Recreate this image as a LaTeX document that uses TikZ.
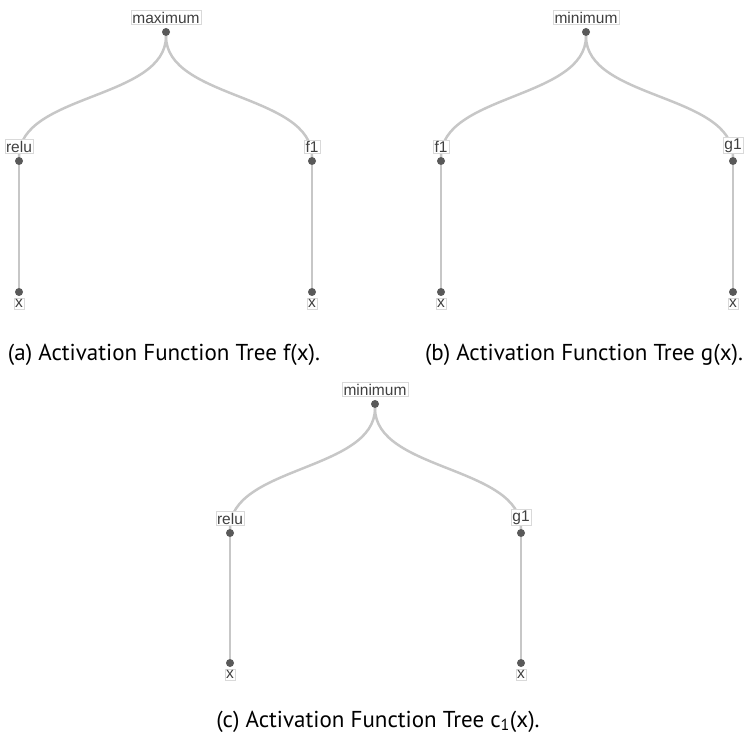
\documentclass[tikz,border=0pt]{standalone}
\usepackage{fontspec}
\usepackage{tikz}
\usetikzlibrary{positioning}
\usetikzlibrary{backgrounds}

\newfontfamily\lblfont{Liberation Sans}
\newfontfamily\capfont{PT Sans}

\tikzset{
    lbl/.style={draw=black!15, fill=white, text=black!75, inner sep=1.3pt,
        font=\lblfont\fontsize{15.5}{17}\selectfont},
    dot/.style={circle, fill=black!65, inner sep=0pt, minimum size=8pt},
    link/.style={draw=black!22, line width=2.5pt},
    captext/.style={font=\capfont\fontsize{23}{26}\selectfont, anchor=base}
}

\begin{document}
\begin{tikzpicture}[x=1pt,y=-1pt]
    \useasboundingbox (0,0) rectangle (748,738);

    % (a) f(x)
    \node[dot] (amax) at (166,32) {};
    \node[dot] (arelu) at (19,161) {};
    \node[dot] (af) at (312,161) {};
    \node[dot] (ax1) at (19,292) {};
    \node[dot] (ax2) at (312,292) {};
    \node[lbl, above=3pt of amax] {maximum};
    \node[lbl, above=3pt of arelu] {relu};
    \node[lbl, above=3pt of af] {f1};
    \node[lbl, below=2pt of ax1] {x};
    \node[lbl, below=2pt of ax2] {x};
    \node[captext] (capa) at (164,361) {(a) Activation Function Tree f(x).};

    % (b) g(x)
    \node[dot] (bmin) at (586,32) {};
    \node[dot] (bf) at (441,161) {};
    \node[dot] (bg) at (733,161) {};
    \node[dot] (bx1) at (441,292) {};
    \node[dot] (bx2) at (733,292) {};
    \node[lbl, above=3pt of bmin] {minimum};
    \node[lbl, above=3pt of bf] {f1};
    \node[lbl, above=3pt of bg] {g1};
    \node[lbl, below=2pt of bx1] {x};
    \node[lbl, below=2pt of bx2] {x};
    \node[captext] (capb) at (584,361) {(b) Activation Function Tree g(x).};

    % (c) c_1(x)
    \node[dot] (cmin) at (375,404) {};
    \node[dot] (crelu) at (230,533) {};
    \node[dot] (cg) at (521,533) {};
    \node[dot] (cx1) at (230,663) {};
    \node[dot] (cx2) at (521,663) {};
    \node[lbl, above=3pt of cmin] {minimum};
    \node[lbl, above=3pt of crelu] {relu};
    \node[lbl, above=3pt of cg] {g1};
    \node[lbl, below=2pt of cx1] {x};
    \node[lbl, below=2pt of cx2] {x};
    \node[captext] (capc) at (378,727) {(c) Activation Function Tree c\textsubscript{1}(x).};

    \begin{scope}[on background layer]
        \foreach \p/\c in {amax/arelu, amax/af, bmin/bf, bmin/bg, cmin/crelu, cmin/cg}
        \draw[link] (\p) to[out=-90, in=90, looseness=0.85] (\c);
        \foreach \p/\c in {arelu/ax1, af/ax2, bf/bx1, bg/bx2, crelu/cx1, cg/cx2}
        \draw[link] (\p) -- (\c);
    \end{scope}
\end{tikzpicture}
\end{document}
